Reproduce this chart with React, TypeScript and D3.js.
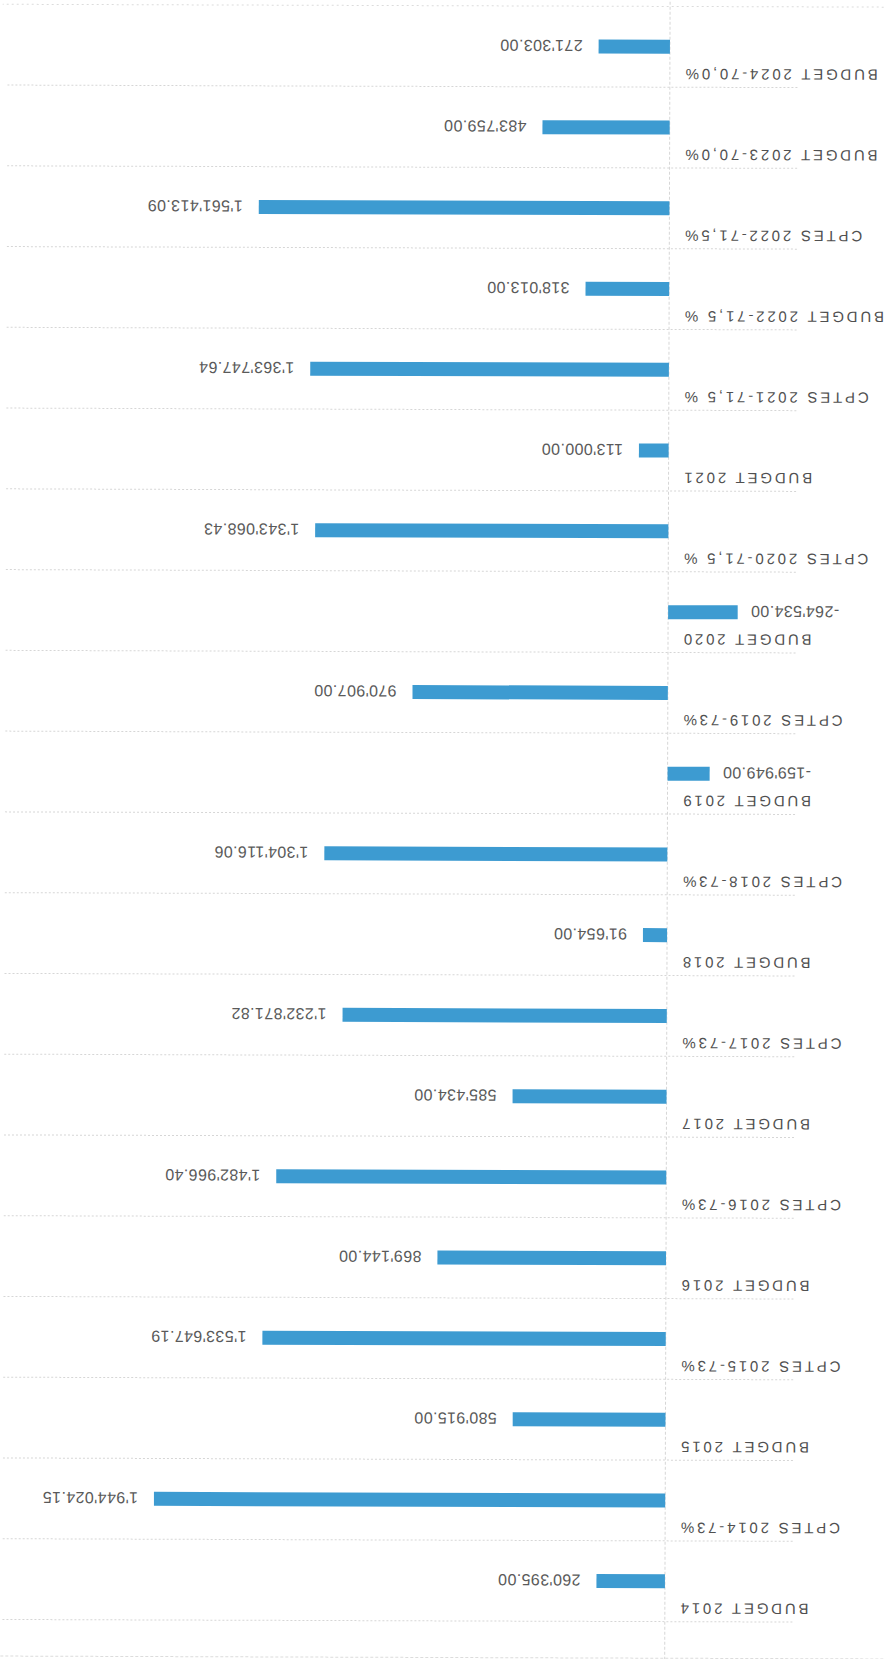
import React from "react";
import * as d3 from "d3";

const categories = [
  "BUDGET 2014",
  "CPTES 2014-73%",
  "BUDGET 2015",
  "CPTES 2015-73%",
  "BUDGET 2016",
  "CPTES 2016-73%",
  "BUDGET 2017",
  "CPTES 2017-73%",
  "BUDGET 2018",
  "CPTES 2018-73%",
  "BUDGET 2019",
  "CPTES 2019-73%",
  "BUDGET 2020",
  "CPTES 2020-71,5 %",
  "BUDGET 2021",
  "CPTES 2021-71,5 %",
  "BUDGET 2022-71,5 %",
  "CPTES 2022-71,5%",
  "BUDGET 2023-70,0%",
  "BUDGET 2024-70,0%",
];

const values = [
  260395.0, 1944024.15, 580915.0, 1533647.19, 869144.0, 1482966.4, 585434.0,
  1232871.82, 91654.0, 1304116.06, -159949.0, 970907.0, -264534.0, 1343068.43,
  113000.0, 1363747.64, 318013.0, 1561413.09, 483759.0, 271303.0,
];

const W = 886;
const H = 1659;

const locale = d3.formatLocale({
  decimal: ".",
  thousands: "'",
  grouping: [3],
  currency: ["", ""],
  minus: "-",
});
const fmt = locale.format(",.2f");

export default function App() {
  const zeroX = 218.6;
  const pxPerMillion = 263;
  const x = d3
    .scaleLinear()
    .domain([-300000, 2000000])
    .range([zeroX - 0.3 * pxPerMillion, zeroX + 2 * pxPerMillion]);
  const y = d3.scaleBand<string>().domain(categories).range([38.1, 1653.3]).padding(0);
  const bw = y.bandwidth();
  const barH = 14;

  return (
    <svg
      width={W}
      height={H}
      style={{ position: "absolute", left: 0, top: 0, background: "#fff" }}
    >
      <rect x={0} y={0} width={W} height={H} fill="#fff" />
      <g transform={`rotate(180.187, ${W / 2}, ${H / 2})`}>
        {/* top page line */}
        <line x1={0} x2={W} y1={1.5} y2={1.5} stroke="#dcdcdc" strokeWidth={1} strokeDasharray="3,2" />
        {/* grid lines at band boundaries */}
        {categories.map((c) => (
          <line
            key={"g" + c}
            x1={91}
            x2={881}
            y1={y(c)!}
            y2={y(c)!}
            stroke="#d6d6d6"
            strokeWidth={1}
            strokeDasharray="2,2"
          />
        ))}
        <line
          x1={0}
          x2={W}
          y1={y.range()[1]}
          y2={y.range()[1]}
          stroke="#dcdcdc"
          strokeWidth={1}
          strokeDasharray="2,3"
        />
        {/* zero line */}
        <line
          x1={x(0)}
          x2={x(0)}
          y1={0}
          y2={H}
          stroke="#d6d6d6"
          strokeWidth={1}
          strokeDasharray="3,2"
        />
        {/* bars */}
        {categories.map((c, i) => {
          const v = values[i];
          const cy = y(c)! + bw / 2;
          const x1 = x(Math.min(0, v));
          const x2 = x(Math.max(0, v));
          return (
            <rect
              key={"b" + c}
              x={x1}
              y={cy - barH / 2}
              width={x2 - x1}
              height={barH}
              fill="#3d9bd1"
            />
          );
        })}
        {/* category labels */}
        {categories.map((c) => {
          const cy = y(c)! + bw / 2;
          return (
            <text
              key={"l" + c}
              x={x(0) - 13}
              y={cy - 22}
              textAnchor="end"
              fontFamily="'Liberation Sans', Arial, sans-serif"
              fontSize={15}
              letterSpacing={2.8}
              fill="#505050"
            >
              {c}
            </text>
          );
        })}
        {/* value labels */}
        {categories.map((c, i) => {
          const v = values[i];
          const cy = y(c)! + bw / 2;
          const pos = v >= 0;
          return (
            <text
              key={"v" + c}
              x={pos ? x(v) + 16 : x(v) - 13}
              y={cy + 1}
              dominantBaseline="central"
              textAnchor={pos ? "start" : "end"}
              fontFamily="'Liberation Sans', Arial, sans-serif"
              fontSize={16}
              letterSpacing={0.4}
              fill="#5a5a5a"
            >
              {fmt(v)}
            </text>
          );
        })}
      </g>
    </svg>
  );
}
